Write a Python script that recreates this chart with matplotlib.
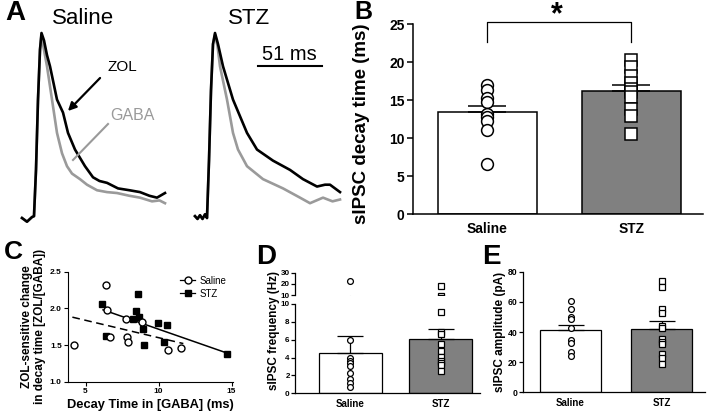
import matplotlib
matplotlib.use("Agg")
import matplotlib.pyplot as plt
from matplotlib.lines import Line2D
import numpy as np

plt.rcParams['font.family'] = ['Liberation Sans', 'DejaVu Sans']

W, H = 708, 413

# ---------------- Data ----------------
# Panel A: normalized sIPSC traces (time in ms, amplitude normalized to peak)
sal_gaba_t = [0, 4, 8, 9.6, 11.2, 12.8, 14.4, 15.6, 17, 20, 24, 28, 32, 36, 40, 46.4, 52, 60, 68, 76, 86, 94.4, 104, 110, 114.4]
sal_gaba_v = [0.0, -0.02, 0.005, 0.01, 0.26, 0.64, 0.91, 0.99, 0.93, 0.82, 0.64, 0.46, 0.35, 0.28, 0.24, 0.21, 0.18, 0.15, 0.14, 0.135, 0.12, 0.11, 0.09, 0.095, 0.08]
sal_zol_t = [0, 4, 8, 9.6, 11.2, 12.8, 14.4, 15.6, 17.6, 20, 22.4, 28, 32.8, 36.8, 42.4, 50.4, 56.8, 62, 68, 76.8, 86, 94.4, 102, 108, 114.4]
sal_zol_v = [0.0, -0.02, 0.005, 0.01, 0.26, 0.64, 0.91, 1.0, 0.96, 0.88, 0.82, 0.64, 0.57, 0.46, 0.37, 0.28, 0.22, 0.2, 0.19, 0.16, 0.15, 0.14, 0.12, 0.11, 0.135]
stz_gaba_t = [0, 2, 4, 6, 8, 9.6, 11.2, 12.8, 14.4, 16, 18, 20, 25.6, 30.4, 34.4, 41.6, 54.4, 70.4, 84, 92, 102.4, 110, 116]
stz_gaba_v = [0.01, -0.005, 0.015, -0.005, 0.02, 0.0, 0.31, 0.69, 0.94, 0.99, 0.93, 0.82, 0.64, 0.46, 0.37, 0.28, 0.21, 0.16, 0.11, 0.08, 0.11, 0.09, 0.10]
stz_zol_t = [0, 2, 4, 6, 8, 9.6, 11.2, 12.8, 14.4, 16, 18.4, 22.4, 30.4, 41.6, 49.6, 62.4, 76, 86.4, 97.6, 104, 108, 112, 116]
stz_zol_v = [0.01, -0.005, 0.015, -0.005, 0.02, 0.0, 0.31, 0.69, 0.94, 1.0, 0.94, 0.82, 0.64, 0.46, 0.37, 0.31, 0.26, 0.21, 0.17, 0.18, 0.18, 0.16, 0.14]
scale_bar_ms = 51

# Panel B: decay time (ms)
groups = ['Saline', 'STZ']
decay_mean = [13.4, 16.2]
decay_sem = [0.8, 0.75]
decay_saline = [17.0, 16.3, 15.2, 14.7, 13.2, 12.8, 12.3, 11.0, 6.6]
decay_stz = [20.3, 19.4, 18.2, 17.2, 16.5, 16.1, 15.4, 13.8, 12.9, 10.5]

# Panel C: ZOL-sensitive change vs decay time in GABA
c_sal_x = [4.2, 6.37, 6.48, 6.66, 7.74, 7.85, 7.9, 8.9, 10.62, 11.53]
c_sal_y = [1.505, 2.315, 1.974, 1.606, 1.851, 1.606, 1.542, 1.814, 1.428, 1.464]
c_stz_x = [6.12, 6.37, 8.56, 8.45, 8.22, 8.65, 8.95, 8.99, 9.93, 10.55, 10.36, 14.68]
c_stz_y = [2.064, 1.623, 2.2, 1.969, 1.86, 1.878, 1.715, 1.5, 1.805, 1.778, 1.546, 1.378]
c_sal_fit_x = [4.1, 11.7]
c_sal_fit_y = [1.88, 1.52]
c_stz_fit_x = [6.2, 14.7]
c_stz_fit_y = [1.98, 1.39]

# Panel D: frequency (Hz)
freq_mean = [4.5, 6.1]
freq_sem = [1.95, 1.1]
freq_saline = [23.0, 5.97, 3.92, 3.62, 3.36, 3.06, 2.24, 1.57, 1.12, 0.75]
freq_stz = [18.0, 9.07, 6.9, 6.64, 5.49, 4.78, 4.1, 3.62, 3.36, 3.17, 2.5]

# Panel E: amplitude (pA)
amp_mean = [41.3, 42.2]
amp_sem = [3.3, 5.1]
amp_saline = [60.5, 55.5, 49.7, 48.4, 42.9, 34.7, 32.9, 27.0, 24.1]
amp_stz = [73.8, 69.6, 55.5, 52.8, 44.0, 42.9, 35.1, 33.4, 31.8, 25.4, 22.5, 18.8]

# ---------------- Helpers ----------------
def rect(l, t, r, b):
    return [l / W, 1 - b / H, (r - l) / W, (b - t) / H]

def fx(px):
    return px / W

def fy(py):
    return 1 - py / H

fig = plt.figure(figsize=(W / 100, H / 100), dpi=100)

GRAY_BAR = '#808080'
GRAY_LINE = '#9a9a9a'

# ---------------- Panel A ----------------
axA1 = fig.add_axes(rect(22, 33, 167, 218))
axA2 = fig.add_axes(rect(195, 33, 340, 218))
for ax, (gt, gv, zt, zv) in zip([axA1, axA2],
                                [(sal_gaba_t, sal_gaba_v, sal_zol_t, sal_zol_v),
                                 (stz_gaba_t, stz_gaba_v, stz_zol_t, stz_zol_v)]):
    ax.plot(gt, gv, color=GRAY_LINE, lw=1.9, clip_on=False, solid_joinstyle='round')
    ax.plot(zt, zv, color='black', lw=1.9, clip_on=False, solid_joinstyle='round')
    ax.set_xlim(0, 116)
    ax.set_ylim(0, 1)
    ax.axis('off')

# scale bar
axA2.plot([50.4, 50.4 + scale_bar_ms], [0.822, 0.822], color='black', lw=1.5, clip_on=False)
axA2.text(50.4 + scale_bar_ms / 2, 0.835, f'{scale_bar_ms} ms', ha='center', va='bottom', fontsize=14.5)

fig.text(fx(5), fy(13), 'A', fontsize=20, fontweight='bold', va='center', ha='left')
fig.text(fx(83), fy(18), 'Saline', fontsize=16, va='center', ha='center')
fig.text(fx(249), fy(18), 'STZ', fontsize=16, va='center', ha='center')
fig.text(fx(122), fy(67), 'ZOL', fontsize=11, va='center', ha='center')
fig.text(fx(132), fy(116), 'GABA', fontsize=11.5, va='center', ha='center', color=GRAY_LINE)
fig.add_artist(matplotlib.patches.FancyArrowPatch((fx(102), fy(76)), (fx(66), fy(113)),
                                                  transform=fig.transFigure, arrowstyle='-|>',
                                                  mutation_scale=12, lw=1.6, color='black'))
fig.add_artist(Line2D([fx(108), fx(73)], [fy(124), fy(160)], transform=fig.transFigure,
                      color=GRAY_LINE, lw=1.5))

# ---------------- bar panel helper ----------------
def bar_panel(ax, means, sems, pts_s, pts_t, width, msize, capsize, lw=1.0):
    xs = np.arange(len(groups))
    ax.bar(xs, means, width=width, color=['white', GRAY_BAR], edgecolor='black', linewidth=lw, zorder=2)
    for i in range(len(groups)):
        ax.errorbar(xs[i], means[i], yerr=[[0], [sems[i]]], fmt='none', ecolor='black',
                    elinewidth=lw, capsize=capsize, capthick=lw, zorder=3)
    ax.plot(np.full(len(pts_s), xs[0]), pts_s, 'o', mfc='white', mec='black', ms=msize, mew=lw, zorder=4)
    ax.plot(np.full(len(pts_t), xs[1]), pts_t, 's', mfc='white', mec='black', ms=msize, mew=lw, zorder=4)
    for s in ['top', 'right']:
        ax.spines[s].set_visible(False)
    ax.set_xticks(xs)
    ax.set_xticklabels(groups, fontweight='bold')
    ax.tick_params(axis='x', length=0)

# ---------------- Panel B ----------------
axB = fig.add_axes(rect(413, 24, 703, 214))
bar_panel(axB, decay_mean, decay_sem, decay_saline, decay_stz, 0.6875, 8.5, 13.5, lw=1.1)
axB.set_xlim(-0.517, 1.497)
axB.set_ylim(0, 25)
axB.set_yticks([0, 5, 10, 15, 20, 25])
for lab in axB.get_yticklabels() + axB.get_xticklabels():
    lab.set_fontweight('bold')
    lab.set_fontsize(10)
axB.tick_params(axis='y', length=4, width=1.1, pad=2)
axB.tick_params(axis='x', pad=6)
for s in ['left', 'bottom']:
    axB.spines[s].set_linewidth(1.1)
axB.set_ylabel('sIPSC decay time (ms)', fontsize=13.5, fontweight='bold')
axB.yaxis.set_label_coords(-0.148, 0.475)
axB.plot([0, 0, 1, 1], [22.6, 25.2, 25.2, 22.6], color='black', lw=0.9, clip_on=False)
fig.text(fx(557), fy(0.5), '*', fontsize=22, fontweight='bold', ha='center', va='top')
fig.text(fx(363), fy(0.3), 'B', fontsize=18, fontweight='bold', ha='center', va='top')

# ---------------- Panel C ----------------
axC = fig.add_axes(rect(68, 271.7, 233, 381.7))
axC.plot(c_sal_fit_x, c_sal_fit_y, '--', color='black', lw=1.1, dashes=(5, 3))
axC.plot(c_stz_fit_x, c_stz_fit_y, '-', color='black', lw=1.1)
axC.plot(c_stz_x, c_stz_y, 's', color='black', ms=5, zorder=3)
axC.plot(c_sal_x, c_sal_y, 'o', mfc='white', mec='black', ms=5, mew=1.0, zorder=4)
axC.set_xlim(3.8, 15.1)
axC.set_ylim(1.0, 2.5)
axC.set_xticks([5, 10, 15])
axC.set_yticks([1.0, 1.5, 2.0, 2.5])
axC.set_yticklabels(['1.0', '1.5', '2.0', '2.5'])
for s in ['top', 'right']:
    axC.spines[s].set_visible(False)
for lab in axC.get_xticklabels() + axC.get_yticklabels():
    lab.set_fontweight('bold')
    lab.set_fontsize(6)
axC.tick_params(length=3, width=0.8, pad=1.5)
axC.set_xlabel('Decay Time in [GABA] (ms)', fontsize=9.3, fontweight='bold', labelpad=3)
axC.set_ylabel('ZOL-sensitive change\nin decay time [ZOL/[GABA])', fontsize=8.5,
               fontweight='bold', labelpad=3, linespacing=1.05)
handles = [Line2D([], [], color='black', lw=0.9, marker='o', mfc='white', mec='black', ms=5),
           Line2D([], [], color='black', lw=0.9, marker='s', ms=5)]
axC.legend(handles, ['Saline', 'STZ'], loc='upper left', bbox_to_anchor=(fx(175), fy(271)),
           bbox_transform=fig.transFigure, frameon=False, fontsize=7, handlelength=1.6,
           handletextpad=0.4, labelspacing=0.3, borderpad=0)
fig.text(fx(13), fy(252), 'C', fontsize=19, fontweight='bold', ha='center', va='center')

# ---------------- Panel D ----------------
axD = fig.add_axes(rect(295, 304, 480, 393.3))
axDu = fig.add_axes(rect(295, 272.7, 480, 295))
bar_panel(axD, freq_mean, freq_sem, freq_saline, freq_stz, 0.696, 4.2, 9.5, lw=0.9)
axD.set_xlim(-0.608, 1.436)
axD.set_ylim(0, 10)
axD.set_yticks([0, 2, 4, 6, 8, 10])
axDu.plot(np.zeros(len(freq_saline)), freq_saline, 'o', mfc='white', mec='black', ms=4.2, mew=0.9)
axDu.plot(np.ones(len(freq_stz)), freq_stz, 's', mfc='white', mec='black', ms=4.2, mew=0.9)
axDu.set_xlim(-0.608, 1.436)
axDu.set_ylim(10, 30)
axDu.set_yticks([10, 20, 30])
for s in ['top', 'right', 'bottom']:
    axDu.spines[s].set_visible(False)
axDu.set_xticks([])
for ax in [axD, axDu]:
    for lab in ax.get_yticklabels():
        lab.set_fontweight('bold')
        lab.set_fontsize(5.8)
    ax.tick_params(axis='y', length=2.8, width=0.9, pad=1)
    ax.spines['left'].set_linewidth(0.9)
for lab in axD.get_xticklabels():
    lab.set_fontweight('bold')
    lab.set_fontsize(7)
axD.spines['bottom'].set_linewidth(0.9)
axD.tick_params(axis='x', pad=4)
fig.text(fx(273.5), fy(331), 'sIPSC frequency (Hz)', rotation=90, fontsize=8.5, fontweight='bold',
         ha='center', va='center')
fig.text(fx(266), fy(257), 'D', fontsize=20, fontweight='bold', ha='center', va='center')

# ---------------- Panel E ----------------
axE = fig.add_axes(rect(523, 271.7, 705, 392.3))
bar_panel(axE, amp_mean, amp_sem, amp_saline, amp_stz, 0.68, 4.2, 9.5, lw=0.9)
axE.set_xlim(-0.522, 1.478)
axE.set_ylim(0, 80)
axE.set_yticks([0, 20, 40, 60, 80])
for lab in axE.get_yticklabels():
    lab.set_fontweight('bold')
    lab.set_fontsize(6.2)
for lab in axE.get_xticklabels():
    lab.set_fontweight('bold')
    lab.set_fontsize(7)
axE.tick_params(axis='y', length=3, width=0.9, pad=1.2)
axE.tick_params(axis='x', pad=4)
for s in ['left', 'bottom']:
    axE.spines[s].set_linewidth(0.9)
fig.text(fx(500.5), fy(332), 'sIPSC amplitude (pA)', rotation=90, fontsize=8.5, fontweight='bold',
         ha='center', va='center')
fig.text(fx(491), fy(257), 'E', fontsize=20, fontweight='bold', ha='center', va='center')

fig.savefig('out.png', dpi=100)
